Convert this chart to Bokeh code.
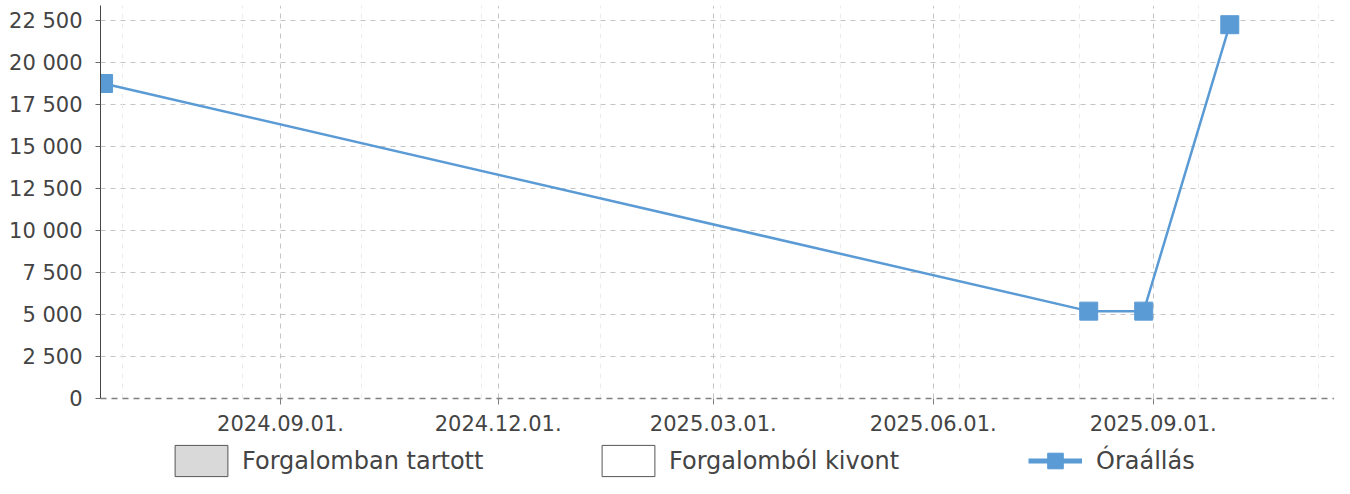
import pandas as pd
from bokeh.plotting import figure
from bokeh.layouts import column
from bokeh.models import (Range1d, FixedTicker, DatetimeTickFormatter, CustomJSTickFormatter,
                          Grid, Legend, LegendItem, ColumnDataSource)
from bokeh.embed import file_html
from bokeh.resources import INLINE

# ---- data ----
series_name = "Óraállás"
dates = ["2024-06-19", "2025-08-05", "2025-08-28", "2025-10-03"]
values = [18750, 5200, 5200, 22250]

bar_series_names = ["Forgalomban tartott", "Forgalomból kivont"]
bar_series_dates = [[], []]
bar_series_values = [[], []]

x_tick_dates = ["2024-09-01", "2024-12-01", "2025-03-01", "2025-06-01", "2025-09-01"]
x_minor_dates = ["2024-06-27", "2024-08-16", "2024-10-05", "2024-11-24", "2025-01-13",
                 "2025-03-04", "2025-04-23", "2025-06-12", "2025-08-01", "2025-09-20", "2025-11-09"]
y_ticks = [0, 2500, 5000, 7500, 10000, 12500, 15000, 17500, 20000, 22500]

x_start = "2024-06-17 17:00"
x_end = "2025-11-15 19:00"
y_end = 23393


def ms(s):
    return pd.Timestamp(s).value // 10**6


FONT = "DejaVu Sans"
BLUE = "#5b9bd5"
TXT = "#444444"
NAN = float("nan")

p = figure(width=1334, height=439, x_axis_type="datetime",
           output_backend="svg", toolbar_location=None,
           min_border_left=100, min_border_right=0, min_border_top=5, min_border_bottom=41)
p.x_range = Range1d(pd.Timestamp(x_start), pd.Timestamp(x_end))
p.y_range = Range1d(0, y_end)
p.outline_line_color = None
p.background_fill_color = "white"

# axes
xa = p.xaxis[0]
xa.ticker = FixedTicker(ticks=[ms(d) for d in x_tick_dates])
fmt = "%Y.%m.%d."
xa.formatter = DatetimeTickFormatter(microseconds=fmt, milliseconds=fmt, seconds=fmt, minsec=fmt,
                                     minutes=fmt, hourmin=fmt, hours=fmt, days=fmt, months=fmt,
                                     years=fmt, context=None)
xa.axis_line_color = "#808080"
xa.axis_line_dash = "6 5"
xa.axis_line_width = 1.5
xa.major_tick_line_color = "#808080"
xa.major_tick_out = 6
xa.major_tick_in = 0
xa.minor_tick_line_color = None
xa.major_label_text_font = FONT
xa.major_label_text_font_size = "21px"
xa.major_label_text_color = TXT
xa.major_label_standoff = 10

ya = p.yaxis[0]
ya.ticker = FixedTicker(ticks=y_ticks)
ya.formatter = CustomJSTickFormatter(code="""
    return Math.round(tick).toString().replace(/\\B(?=(\\d{3})+(?!\\d))/g, " ");
""")
ya.axis_line_color = "#444444"
ya.major_tick_line_color = "#666666"
ya.major_tick_out = 5
ya.major_tick_in = 0
ya.minor_tick_line_color = None
ya.major_label_text_font = FONT
ya.major_label_text_font_size = "21px"
ya.major_label_text_color = TXT
ya.major_label_standoff = 13

# grids
p.xgrid.grid_line_color = "#c4c4c4"
p.xgrid.grid_line_dash = "5 5"
p.ygrid.grid_line_color = "#c4c4c4"
p.ygrid.grid_line_dash = "5 5"
p.ygrid.ticker = FixedTicker(ticks=y_ticks)
minor_grid = Grid(dimension=0, ticker=FixedTicker(ticks=[ms(d) for d in x_minor_dates]),
                  grid_line_color="#ececec", grid_line_dash="5 5")
p.add_layout(minor_grid)

# main series
src = ColumnDataSource(dict(x=[pd.Timestamp(d) for d in dates], y=values))
p.line("x", "y", source=src, line_color=BLUE, line_width=2.5)
p.scatter("x", "y", source=src, marker="square", size=18, fill_color=BLUE, line_color=BLUE)

# ---- legend strip (second figure; its frame is aligned with the chart frame) ----
q = figure(width=1334, height=39, output_backend="svg", toolbar_location=None,
           x_axis_location=None, y_axis_location=None,
           min_border_left=100, min_border_right=0, min_border_top=0, min_border_bottom=0)
q.x_range = Range1d(0, 1)
q.y_range = Range1d(0, 1)
q.grid.visible = False
q.outline_line_color = None

# legend proxies: the bar series are empty, so each proxy holds one invisible (NaN) row
bar_fills = ["#d9d9d9", "#ffffff"]
bar_renderers = []
for name, ds, vs, fc in zip(bar_series_names, bar_series_dates, bar_series_values, bar_fills):
    bsrc = ColumnDataSource(dict(left=[NAN] + list(ds), right=[NAN] + list(ds),
                                 top=[NAN] + list(vs), bottom=[NAN] + [0] * len(vs)))
    r = q.quad(left="left", right="right", top="top", bottom="bottom", source=bsrc,
               fill_color=fc, line_color="#555555", line_width=1)
    bar_renderers.append(r)

leg_line = q.line(x=[NAN], y=[NAN], line_color=BLUE, line_width=5)
leg_marker = q.scatter(x=[NAN], y=[NAN], marker="square", fill_color=BLUE, line_color=BLUE)


def make_legend(items, x, gw, standoff):
    lg = Legend(items=items, location=(x, -2), orientation="horizontal",
                glyph_width=gw, glyph_height=39, label_standoff=standoff,
                padding=0, margin=0, spacing=0,
                border_line_color=None, background_fill_alpha=0,
                label_text_font=FONT, label_text_font_size="24px",
                label_text_color=TXT)
    q.add_layout(lg)


make_legend([LegendItem(label=bar_series_names[0], renderers=[bar_renderers[0]])], 68, 66, 8)
make_legend([LegendItem(label=bar_series_names[1], renderers=[bar_renderers[1]])], 495, 66, 8)
make_legend([LegendItem(label=series_name, renderers=[leg_line, leg_marker])], 928, 54, 14)

layout = column(p, q, spacing=0)
open("out.html", "w").write(file_html(layout, INLINE))
